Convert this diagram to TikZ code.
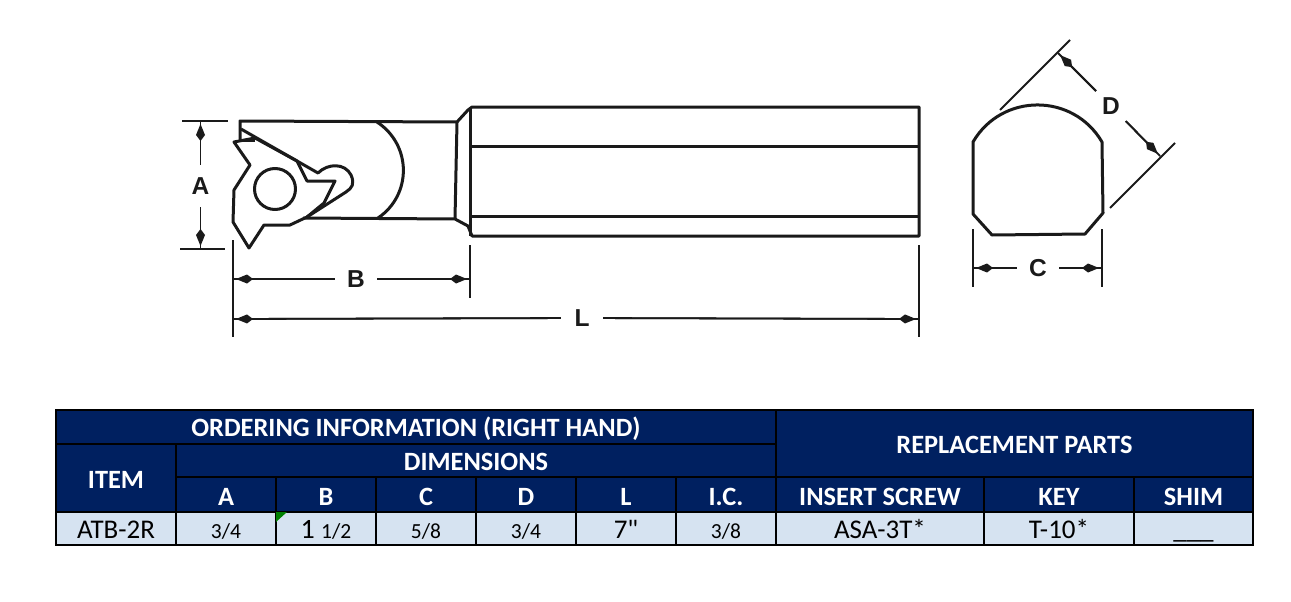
\documentclass[tikz,border=0pt]{standalone}
\usepackage{xcolor}
\usepackage{fontspec}
\setmainfont{Carlito}
\newfontfamily\dimfont{Liberation Sans}
\newfontfamily\plainfont{Carlito}
\usetikzlibrary{arrows.meta}
\definecolor{navy}{HTML}{002060}
\definecolor{paleblue}{HTML}{D6E3F1}
\definecolor{inkblack}{HTML}{1A1A1A}
\newcommand{\fracsize}{\fontsize{21.5}{22}\selectfont}
\tikzstyle{outline} = [draw=inkblack, line width=3pt, line join=round]
\tikzstyle{extline} = [draw=inkblack, line width=1.8pt]
\tikzstyle{dimline} = [draw=inkblack, line width=1.8pt, -{Kite[length=17pt,width=9pt,inset=6pt]}, shorten >=3pt, postaction={draw, arrows=-, shorten >=0pt}]
\tikzstyle{dimlabel} = [circle, inner sep=0pt, minimum size=42pt, text=inkblack, font=\dimfont\bfseries\fontsize{24.5}{25}\selectfont]
\tikzstyle{cell} = [rectangle, draw=black, line width=1.1pt, inner sep=0pt, text height=19pt, text depth=0pt, align=center]
\tikzstyle{headcell} = [cell, fill=navy, text=white, font=\bfseries\fontsize{26.4}{27}\selectfont]
\tikzstyle{colhead} = [headcell, minimum height=35pt, text height=21pt]
\tikzstyle{datacell} = [cell, fill=paleblue, text=black, minimum height=33pt, font=\fontsize{27}{27}\selectfont]

\begin{document}
\begin{tikzpicture}[x=1pt, y=-1pt]
\useasboundingbox (0,0) rectangle (1291,602);

% side view of the holder
\draw[outline] (240,140) -- (240,121) -- (457,122) -- (468,110) -- (472,107) -- (919,107) -- (919,236) -- (472,236) -- (468,226) -- (455,219) -- (303,218);
\draw[outline] (457,122) -- (455,219);
\draw[outline] (470,107) -- (470,236);
\draw[outline] (471,146) -- (919,146);
\draw[outline] (471,216) -- (919,216);
\draw[outline] (377,122) .. controls (412,145) and (412,195) .. (378,218);

% insert and clamp
\draw[outline] (234,142) -- (255,138) -- (297,161) -- (307,181) -- (335,181) -- (324,203) -- (307,217) -- (290,225) -- (264,225) -- (249,248) -- (233,222) -- (234,190) -- (250,165) -- cycle;
\draw[outline] (241,129) -- (318,173) .. controls (328,163) and (345,163) .. (351,175) .. controls (355,184) and (352,188) .. (346,192) -- (307,217);
\draw[outline] (241,140) -- (255,140);
\draw[outline] (275,189) circle (20.5);

% end view
\draw[outline] (973,142) .. controls (1001.8,92.6) and (1073.2,92.6) .. (1102,142) -- (1103,213) -- (1085,234) -- (992,235) -- (973,214) -- cycle;

% extension lines
\draw[extline] (182,121) -- (228,121);
\draw[extline] (180,249) -- (225,249);
\draw[extline] (233,240) -- (233,337);
\draw[extline] (470,245) -- (470,298);
\draw[extline] (919,245) -- (919,337);
\draw[extline] (973,229) -- (973,287);
\draw[extline] (1102,229) -- (1102,287);
\draw[extline] (1000,110) -- (1070,40);
\draw[extline] (1110,208) -- (1175,143);

% dimensions
\coordinate (atop) at (200.5,121);
\coordinate (abot) at (200.5,249);
\coordinate (bleft) at (233,279);
\coordinate (bright) at (470,279);
\coordinate (lleft) at (233,319);
\coordinate (lright) at (919,319);
\coordinate (cleft) at (973,268);
\coordinate (cright) at (1102,268);
\coordinate (dtop) at (1058,53);
\coordinate (dbot) at (1160,156);
\node[dimlabel] (lblA) at (200.5,186) {A};
\node[dimlabel] (lblB) at (356,279) {B};
\node[dimlabel] (lblL) at (582,318) {L};
\node[dimlabel] (lblC) at (1038,268) {C};
\node[dimlabel] (lblD) at (1111,106) {D};
\foreach \lbl/\ptA/\ptB in {lblA/atop/abot, lblB/bleft/bright, lblL/lleft/lright, lblC/cleft/cright, lblD/dtop/dbot} {
    \draw[dimline] (\lbl) -- (\ptA);
    \draw[dimline] (\lbl) -- (\ptB);
}

% table
\node[headcell, minimum width=720pt, minimum height=34pt] (order) at (416,427) {ORDERING INFORMATION (RIGHT HAND)};
\node[headcell, minimum width=477pt, minimum height=68pt] (parts) at (1014.5,444) {REPLACEMENT PARTS};
\node[headcell, minimum width=120pt, minimum height=68pt] (item) at (116,478.5) {ITEM};
\node[headcell, minimum width=600pt, minimum height=33pt] (dims) at (476,460.5) {DIMENSIONS};
\foreach \cname/\cx/\chead/\cdata in {
    a/226/A/{\fracsize 3/4},
    b/326/B/{\fontsize{28}{28}\selectfont 1 \fracsize 1/2},
    c/426/C/{\fracsize 5/8},
    d/526/D/{\fracsize 3/4},
    l/626/L/{\plainfont 7"},
    ic/726/I.C./{\fracsize 3/8}} {
    \node[colhead, minimum width=100pt] (head\cname) at (\cx,494.5) {\chead};
    \node[datacell, minimum width=100pt] (data\cname) at (\cx,528.5) {\cdata};
}
\foreach \cname/\cx/\cw/\chead/\cdata in {
    screw/880/208/INSERT SCREW/ASA-3T*,
    key/1059/150/KEY/T-10*,
    shim/1193.5/119/SHIM/\_\_\_} {
    \node[colhead, minimum width=\cw pt] (head\cname) at (\cx,494.5) {\chead};
    \node[datacell, minimum width=\cw pt] (data\cname) at (\cx,528.5) {\cdata};
}
\node[datacell, minimum width=120pt] (dataitem) at (116,528.5) {ATB-2R};
\fill[green!50!black] (276,512) -- (287,512) -- (276,522) -- cycle;

\end{tikzpicture}
\end{document}
